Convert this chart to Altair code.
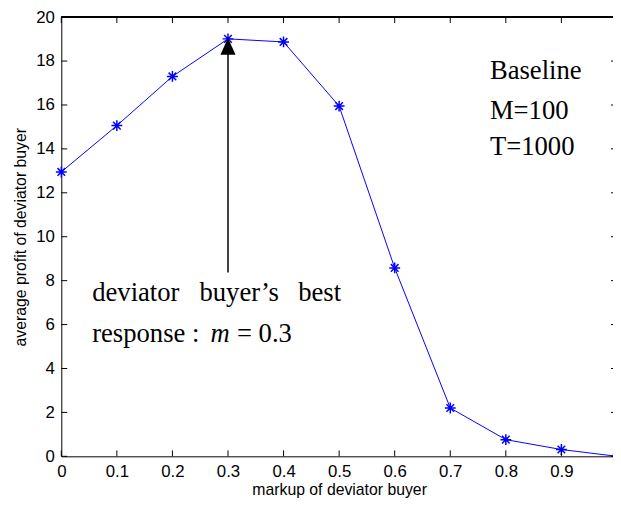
import altair as alt
import pandas as pd

# ---- data ----
markup = [0.0, 0.1, 0.2, 0.3, 0.4, 0.5, 0.6, 0.7, 0.8, 0.9, 1.0]
profit = [12.95, 15.06, 17.30, 19.01, 18.87, 15.95, 8.58, 2.20, 0.76, 0.31, 0.0]

x_ticks = [0.0, 0.1, 0.2, 0.3, 0.4, 0.5, 0.6, 0.7, 0.8, 0.9, 1.0]
x_labelled = [0.0, 0.1, 0.2, 0.3, 0.4, 0.5, 0.6, 0.7, 0.8, 0.9]
y_ticks = [0, 2, 4, 6, 8, 10, 12, 14, 16, 18, 20]

arrow_x = [0.3]
arrow_tip = [19.05]
arrow_base = [8.37]

ann_text = ["deviator", "buyer\u2019s", "best", "response :", "= 0.3",
            "Baseline", "M=100", "T=1000"]
ann_x = [0.0556, 0.2487, 0.4263, 0.0556, 0.3161, 0.7714, 0.7714, 0.7714]
ann_y = [7.08, 7.08, 7.08, 5.22, 5.22, 17.18, 15.38, 13.71]

ital_text = ["m"]
ital_x = [0.2687]
ital_y = [5.22]

BLUE = "#0000ff"
SANS = "Liberation Sans"
SERIF = "Liberation Serif"

df = pd.DataFrame({"markup": markup, "profit": profit})
xt = pd.DataFrame({"t": x_ticks})
yt = pd.DataFrame({"t": y_ticks})
arr = pd.DataFrame({"x": arrow_x, "tip": arrow_tip, "base": arrow_base})
ann = pd.DataFrame({"x": ann_x, "y": ann_y, "text": ann_text})
ital = pd.DataFrame({"x": ital_x, "y": ital_y, "text": ital_text})

xscale = alt.Scale(domain=[0, 1], range=[0, 563], nice=False, zero=False)
yscale = alt.Scale(domain=[0, 20], nice=False, zero=False)

xaxis = alt.Axis(values=x_labelled, format="~g", ticks=False, grid=False,
                 domain=True, domainColor="black", domainWidth=1,
                 labelFont=SANS, labelFontSize=17, labelColor="black",
                 labelPadding=7, labelFlush=False, labelOverlap=False,
                 title="markup of deviator buyer", titleFont=SANS,
                 titleFontSize=16, titleFontWeight="normal", titleColor="black",
                 titlePadding=3)
yaxis = alt.Axis(values=y_ticks, ticks=False, grid=False,
                 domain=True, domainColor="black", domainWidth=1,
                 labelFont=SANS, labelFontSize=17, labelColor="black",
                 labelPadding=7, labelFlush=False, labelOverlap=False,
                 title="average profit of deviator buyer", titleFont=SANS,
                 titleFontSize=16, titleFontWeight="normal", titleColor="black",
                 titlePadding=7)

X = alt.X("markup:Q", scale=xscale, axis=xaxis)
Y = alt.Y("profit:Q", scale=yscale, axis=yaxis)

line = alt.Chart(df).mark_line(color=BLUE, strokeWidth=1).encode(x=X, y=Y)

star = "M-1,0L1,0M0,-1L0,1M-0.7,-0.7L0.7,0.7M-0.7,0.7L0.7,-0.7"
points = alt.Chart(df).mark_point(shape=star, size=121, filled=False,
                                  stroke=BLUE, strokeWidth=1.5, opacity=1).encode(x=X, y=Y)

# frame line on top
top_line = alt.Chart(xt).mark_rule(color="black", strokeWidth=1).encode(
    x=alt.datum(0, scale=xscale), x2=alt.datum(1), y=alt.datum(20, scale=yscale))

# inward ticks on four sides
bot_ticks = alt.Chart(xt).mark_rule(color="black", strokeWidth=1, y2Offset=-6).encode(
    x=alt.X("t:Q", scale=xscale), y=alt.datum(0, scale=yscale), y2=alt.datum(0))
top_ticks = alt.Chart(xt).mark_rule(color="black", strokeWidth=1, y2Offset=6).encode(
    x=alt.X("t:Q", scale=xscale), y=alt.datum(20, scale=yscale), y2=alt.datum(20))
left_ticks = alt.Chart(yt).mark_rule(color="black", strokeWidth=1, x2Offset=6).encode(
    y=alt.Y("t:Q", scale=yscale), x=alt.datum(0, scale=xscale), x2=alt.datum(0))
right_ticks = alt.Chart(yt).mark_rule(color="black", strokeWidth=1, x2Offset=-6).encode(
    y=alt.Y("t:Q", scale=yscale), x=alt.datum(1, scale=xscale), x2=alt.datum(1))

arrow_line = alt.Chart(arr).mark_rule(color="black", strokeWidth=1.5).encode(
    x=alt.X("x:Q", scale=xscale), y=alt.Y("base:Q", scale=yscale), y2="tip:Q")
arrow_head = alt.Chart(arr).mark_point(shape="M0,0L0.9,2L-0.9,2Z", size=289,
                                       filled=True, color="black", opacity=1).encode(
    x=alt.X("x:Q", scale=xscale), y=alt.Y("tip:Q", scale=yscale))

labels = alt.Chart(ann).mark_text(font=SERIF, fontSize=27, color="black",
                                  align="left", baseline="alphabetic").encode(
    x=alt.X("x:Q", scale=xscale), y=alt.Y("y:Q", scale=yscale), text="text:N")
ital_lab = alt.Chart(ital).mark_text(font=SERIF, fontSize=27, fontStyle="italic",
                                     color="black", align="left",
                                     baseline="alphabetic").encode(
    x=alt.X("x:Q", scale=xscale), y=alt.Y("y:Q", scale=yscale), text="text:N")

chart = alt.layer(
    line, points, top_line, bot_ticks, top_ticks, left_ticks, right_ticks,
    arrow_line, arrow_head, labels, ital_lab
).properties(
    width=559, height=445,
    padding={"left": 54, "top": 6, "right": 0, "bottom": 41},
    autosize=alt.AutoSizeParams(type="none"),
    background="white",
).configure_view(stroke=None)

chart.save("out.html", embed_options={"renderer": "svg", "actions": False})
